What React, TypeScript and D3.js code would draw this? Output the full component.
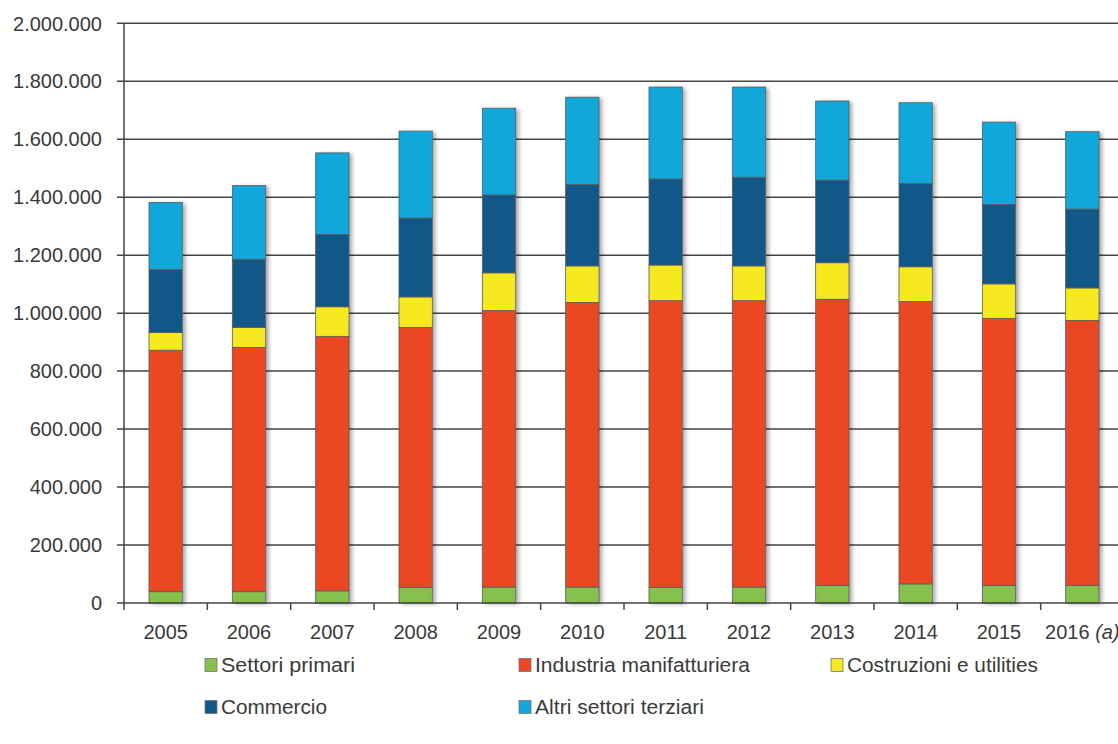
import React from "react";
import * as d3 from "d3";

const years = ["2005","2006","2007","2008","2009","2010","2011","2012","2013","2014","2015","2016"];
const seriesNames = ["Settori primari","Industria manifatturiera","Costruzioni e utilities","Commercio","Altri settori terziari"];
const seriesColors = ["#86c04d","#eb4723","#f7e920","#115788","#10a8da"];
// values in thousands
const settoriPrimari = [39,39,42,54,55,55,54,55,61,66,61,61];
const industria = [833,843,878,897,954,982,989,988,987,974,921,914];
const costruzioni = [61,69,102,105,130,126,123,120,126,120,119,112];
const commercio = [218,235,249,272,269,281,297,306,285,287,274,272];
const altriTerziari = [231,254,282,300,299,301,317,311,273,279,284,267];
const yTicks = [0,200000,400000,600000,800000,1000000,1200000,1400000,1600000,1800000,2000000];

const W = 1118, H = 744;
const left = 124, right = 1124, top = 23.3, bottom = 603;

const fmt = (v: number) => {
  if (v === 0) return "0";
  return d3.format(",")(v).replace(/,/g, ".");
};

export default function App() {
  const all = [settoriPrimari, industria, costruzioni, commercio, altriTerziari];
  const rows = years.map((y, i) => {
    const r: any = { year: y };
    seriesNames.forEach((s, k) => (r[s] = all[k][i] * 1000));
    return r;
  });
  const stack = d3.stack<any>().keys(seriesNames)(rows);
  const x = d3.scaleBand().domain(years).range([left, right]).padding(0);
  const y = d3.scaleLinear().domain([0, 2000000]).range([bottom, top]);
  const bw = x.bandwidth();
  const barW = bw * 0.4;
  const textColor = "#3a3a3a";
  const font = "'Liberation Sans', Arial, Helvetica, sans-serif";

  const legendItems = [
    { i: 0, x: 205, y: 665, w: 134 },
    { i: 1, x: 519, y: 665, w: 215 },
    { i: 2, x: 831, y: 665, w: 191 },
    { i: 3, x: 205, y: 707, w: 106 },
    { i: 4, x: 519, y: 707, w: 169 },
  ];

  return (
    <svg width={W} height={H} style={{ position: "absolute", left: 0, top: 0, background: "#fff" }} fontFamily={font}>
      <defs>
        <filter id="sh" x="-30%" y="-10%" width="170%" height="130%">
          <feDropShadow dx="3" dy="1" stdDeviation="2" floodColor="#000" floodOpacity="0.35" />
        </filter>
      </defs>
      {/* gridlines */}
      {yTicks.map((t) => (
        <g key={t}>
          {t > 0 && (
            <line x1={117} x2={W} y1={y(t)} y2={y(t)} stroke="#444" strokeWidth={1.5} />
          )}
          {t === 0 && <line x1={117} x2={left} y1={y(t)} y2={y(t)} stroke="#444" strokeWidth={1.5} />}
          <text x={102} y={y(t)} dy="0.36em" textAnchor="end" fontSize={20} fill={textColor}>
            {fmt(t)}
          </text>
        </g>
      ))}
      {/* bars */}
      {years.map((yr) => {
        const x0 = (x(yr) as number) + (bw - barW) / 2;
        const s0 = stack[0].find((d: any) => d.data.year === yr)!;
        const sN = stack[stack.length - 1].find((d: any) => d.data.year === yr)!;
        return (
          <g key={yr}>
            <rect x={x0} y={y(sN[1])} width={barW} height={y(s0[0]) - y(sN[1])} fill="#fff" filter="url(#sh)" />
            {stack.map((ser, k) => {
              const d = ser.find((dd: any) => dd.data.year === yr)!;
              return (
                <rect
                  key={k}
                  x={x0}
                  y={y(d[1])}
                  width={barW}
                  height={y(d[0]) - y(d[1])}
                  fill={seriesColors[k]}
                  stroke="#5a5a5a"
                  strokeWidth={0.8}
                />
              );
            })}
          </g>
        );
      })}
      {/* axes */}
      <line x1={left} x2={left} y1={top} y2={bottom} stroke="#444" strokeWidth={1.5} />
      <line x1={left} x2={W} y1={bottom} y2={bottom} stroke="#444" strokeWidth={1.5} />
      {years.map((yr) => (
        <line key={"t" + yr} x1={x(yr) as number} x2={x(yr) as number} y1={bottom} y2={bottom + 7} stroke="#444" strokeWidth={1.5} />
      ))}
      {years.map((yr, i) => (
        <text
          key={"l" + yr}
          x={(x(yr) as number) + bw / 2}
          y={638.5}
          textAnchor="middle"
          fontSize={20}
          fill={textColor}
        >
          {i === years.length - 1 ? (
            <>
              {yr + " "}
              <tspan fontStyle="italic">(a)</tspan>
            </>
          ) : (
            yr
          )}
        </text>
      ))}
      {/* legend */}
      {legendItems.map((it) => (
        <g key={it.i}>
          <rect x={it.x} y={it.y - 6.5} width={12} height={13} fill={seriesColors[it.i]} stroke="#777" strokeWidth={0.8} />
          <text
            x={it.x + 16}
            y={it.y}
            dy="0.36em"
            fontSize={20}
            fill={textColor}
            textLength={it.w}
            lengthAdjust="spacingAndGlyphs"
          >
            {seriesNames[it.i]}
          </text>
        </g>
      ))}
    </svg>
  );
}
